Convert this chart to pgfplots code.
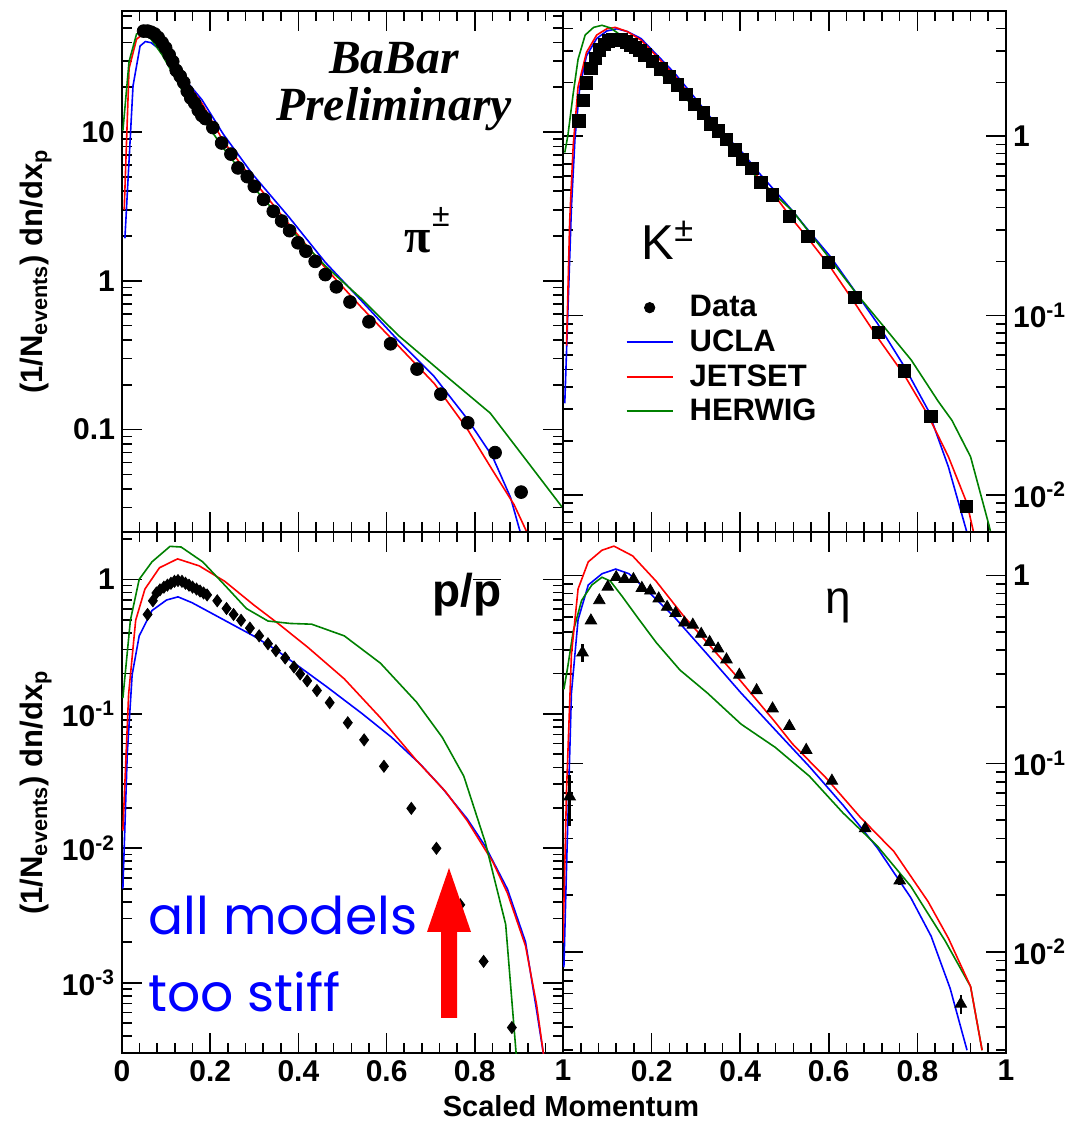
\documentclass[border=0pt]{standalone}
\usepackage{fontspec}
\setmainfont{Liberation Sans}
\newfontfamily\timesfont{Liberation Serif}
\newfontfamily\comicfont{Poppins}
\usepackage{pgfplots}
\pgfplotsset{compat=1.18}
\definecolor{ublue}{RGB}{0,0,255}
\definecolor{jred}{RGB}{255,0,0}
\definecolor{hgreen}{RGB}{0,128,0}

\begin{document}
\begin{tikzpicture}[x=0.5pt,y=0.5pt]
\useasboundingbox (0,0) rectangle (1069,1128);

% ---------------- pions ----------------
\begin{axis}[at={(61pt,298pt)}, anchor=south west, width=220.5pt, height=260.5pt,
  scale only axis, ymode=log, xmin=0, xmax=1,
  tick align=inside, tick pos=both,
  xtick={0,0.2,0.4,0.6,0.8,1}, minor x tick num=4,
  major tick length=10pt, minor tick length=5pt,
  axis line style={line width=1pt},
  tick style={black, line width=0.8pt},
  tick label style={font=\fontsize{15}{15}\selectfont\bfseries},
  ymin=0.0205, ymax=65,
  ytick={0.1,1,10}, yticklabels={0.1,1,10},
  minor ytick={0.03,0.04,0.05,0.06,0.07,0.08,0.09,0.2,0.3,0.4,0.5,0.6,0.7,0.8,0.9,2,3,4,5,6,7,8,9,20,30,40,50,60},
  xticklabel=\empty,
  ylabel={(1/N\textsubscript{events}) dn/dx\textsubscript{p}},
  ylabel style={at={(axis description cs:-0.195,0.5)}, anchor=center, font=\fontsize{15.5}{15.5}\selectfont\bfseries},
]
\addplot[ublue, line width=0.8pt, no marks] coordinates {(0.0066,1.93)(0.025,20.4)(0.041,37.8)(0.053,40.5)(0.066,39.8)(0.091,34.8)(0.132,24.6)(0.181,16.5)(0.230,9.63)(0.296,5.20)(0.379,2.67)(0.461,1.33)(0.535,0.778)(0.626,0.398)(0.708,0.227)(0.782,0.119)(0.840,0.066)(0.881,0.035)(0.901,0.0215)(0.909,0.018)};
\addplot[jred, line width=0.8pt, no marks] coordinates {(0.005,3.0)(0.016,26.7)(0.033,42)(0.045,44.8)(0.066,43.1)(0.091,36.7)(0.132,24.6)(0.181,15.6)(0.230,8.65)(0.296,4.80)(0.379,2.39)(0.461,1.22)(0.543,0.662)(0.626,0.367)(0.708,0.204)(0.782,0.102)(0.840,0.0534)(0.889,0.0313)(0.922,0.0193)};
\addplot[hgreen, line width=0.8pt, no marks] coordinates {(0.002,10.2)(0.016,29.7)(0.033,45.5)(0.045,46.8)(0.066,42)(0.091,33)(0.140,18.3)(0.181,12.6)(0.230,7.78)(0.296,4.31)(0.379,2.27)(0.461,1.26)(0.543,0.757)(0.626,0.431)(0.741,0.221)(0.835,0.129)(0.922,0.0594)(1.0,0.0296)};
\addplot[only marks, mark=*, mark size=3.2pt, black] table {
x y
0.049 47.6
0.058 47.6
0.066 46.8
0.074 45.5
0.082 43.1
0.091 39.8
0.099 36.7
0.107 33.0
0.115 29.7
0.123 25.9
0.132 23.7
0.140 21.5
0.148 18.8
0.156 16.9
0.165 15.6
0.173 14.0
0.181 12.9
0.189 12.3
0.206 10.7
0.226 8.43
0.247 7.10
0.263 5.73
0.284 5.01
0.300 4.31
0.321 3.52
0.343 2.93
0.362 2.52
0.380 2.17
0.399 1.80
0.417 1.58
0.438 1.35
0.461 1.10
0.486 0.91
0.517 0.72
0.560 0.53
0.609 0.377
0.669 0.255
0.723 0.173
0.784 0.111
0.846 0.070
0.905 0.038
};
\end{axis}

% ---------------- kaons ----------------
\begin{axis}[at={(281.5pt,298pt)}, anchor=south west, width=221.5pt, height=260.5pt,
  scale only axis, ymode=log, xmin=0, xmax=1,
  tick align=inside, tick pos=both,
  xtick={0,0.2,0.4,0.6,0.8,1}, minor x tick num=4,
  major tick length=10pt, minor tick length=5pt,
  axis line style={line width=1pt},
  tick style={black, line width=0.8pt},
  tick label style={font=\fontsize{15}{15}\selectfont\bfseries},
  ymin=0.0062, ymax=5.0,
  ytick={0.01,0.1,1}, yticklabels={10\textsuperscript{-2},10\textsuperscript{-1},1},
  yticklabel pos=right, ytick pos=both,
  minor ytick={0.007,0.008,0.009,0.02,0.03,0.04,0.05,0.06,0.07,0.08,0.09,0.2,0.3,0.4,0.5,0.6,0.7,0.8,0.9,2,3,4},
  xticklabel=\empty,
  legend image code/.code={\draw[mark repeat=2,mark phase=2,#1] plot coordinates {(0pt,0pt) (11.5pt,0pt) (23pt,0pt)};},
  legend style={at={(0.127,0.47)}, anchor=north west, draw=none, fill=none,
    font=\fontsize{15.5}{15.5}\selectfont\bfseries, row sep=1pt,
    /tikz/every odd column/.append style={column sep=6pt}},
  legend cell align=left,
]
\addlegendimage{only marks, mark=*, mark size=2.6pt, black}
\addlegendentry{Data}
\addlegendimage{color=ublue, line width=1pt}\addlegendentry{UCLA}
\addlegendimage{color=jred, line width=1pt}\addlegendentry{JETSET}
\addlegendimage{color=hgreen, line width=1pt}\addlegendentry{HERWIG}
\addplot[ublue, line width=0.8pt, no marks, forget plot] coordinates {(0.004,0.0324)(0.011,0.105)(0.019,0.40)(0.027,0.97)(0.038,1.89)(0.053,2.81)(0.076,3.51)(0.099,3.87)(0.122,3.98)(0.145,3.84)(0.176,3.51)(0.214,2.81)(0.252,2.25)(0.290,1.73)(0.328,1.32)(0.366,1.01)(0.405,0.811)(0.443,0.622)(0.481,0.488)(0.519,0.381)(0.557,0.292)(0.603,0.214)(0.656,0.140)(0.710,0.0902)(0.771,0.0517)(0.824,0.0297)(0.870,0.0143)(0.912,0.00614)};
\addplot[jred, line width=0.8pt, no marks, forget plot] coordinates {(0.008,0.068)(0.015,0.334)(0.023,0.887)(0.034,1.89)(0.053,2.94)(0.076,3.67)(0.099,3.98)(0.118,4.05)(0.145,3.84)(0.176,3.44)(0.214,2.75)(0.252,2.18)(0.290,1.65)(0.328,1.27)(0.366,0.97)(0.405,0.759)(0.443,0.582)(0.481,0.456)(0.519,0.341)(0.557,0.262)(0.603,0.187)(0.656,0.120)(0.710,0.0755)(0.771,0.0463)(0.824,0.0278)(0.870,0.0163)(0.912,0.00895)(0.927,0.00614)};
\addplot[hgreen, line width=0.8pt, no marks, forget plot] coordinates {(0.004,0.811)(0.011,1.01)(0.023,1.73)(0.034,2.69)(0.050,3.67)(0.069,4.05)(0.088,4.16)(0.107,4.02)(0.130,3.67)(0.160,3.08)(0.198,2.52)(0.252,1.89)(0.305,1.38)(0.366,0.927)(0.443,0.569)(0.519,0.381)(0.595,0.219)(0.664,0.131)(0.725,0.0862)(0.786,0.0565)(0.847,0.0332)(0.878,0.026)(0.920,0.0163)(0.962,0.0067)(0.970,0.0055)};
\addplot[only marks, mark=square*, mark size=3.1pt, black, forget plot] table {
x y
0.036 1.22
0.046 1.59
0.053 1.99
0.063 2.40
0.073 2.72
0.082 3.04
0.093 3.26
0.103 3.41
0.113 3.48
0.122 3.48
0.132 3.44
0.143 3.36
0.153 3.24
0.164 3.12
0.174 3.01
0.185 2.85
0.202 2.61
0.221 2.38
0.240 2.14
0.258 1.93
0.277 1.71
0.296 1.51
0.317 1.35
0.334 1.17
0.351 1.07
0.369 0.961
0.388 0.838
0.405 0.743
0.426 0.662
0.447 0.552
0.473 0.470
0.511 0.357
0.553 0.276
0.599 0.198
0.659 0.126
0.712 0.0805
0.771 0.049
0.830 0.0274
0.911 0.0086
};
\end{axis}

% ---------------- protons ----------------
\begin{axis}[at={(61pt,37.5pt)}, anchor=south west, width=220.5pt, height=260.5pt,
  scale only axis, ymode=log, xmin=0, xmax=1,
  tick align=inside, tick pos=both,
  xtick={0,0.2,0.4,0.6,0.8,1}, minor x tick num=4,
  major tick length=10pt, minor tick length=5pt,
  axis line style={line width=1pt},
  tick style={black, line width=0.8pt},
  tick label style={font=\fontsize{15}{15}\selectfont\bfseries},
  ymin=3.0e-4, ymax=2.25,
  ytick={0.001,0.01,0.1,1}, yticklabels={10\textsuperscript{-3},10\textsuperscript{-2},10\textsuperscript{-1},1},
  minor ytick={0.0004,0.0005,0.0006,0.0007,0.0008,0.0009,0.002,0.003,0.004,0.005,0.006,0.007,0.008,0.009,0.02,0.03,0.04,0.05,0.06,0.07,0.08,0.09,0.2,0.3,0.4,0.5,0.6,0.7,0.8,0.9,2},
  xticklabels={0,0.2,0.4,0.6,0.8,1},
  ylabel={(1/N\textsubscript{events}) dn/dx\textsubscript{p}},
  ylabel style={at={(axis description cs:-0.195,0.5)}, anchor=center, font=\fontsize{15.5}{15.5}\selectfont\bfseries},
]
\addplot[ublue, line width=0.8pt, no marks] coordinates {(0.002,0.0050)(0.012,0.051)(0.023,0.195)(0.039,0.38)(0.068,0.586)(0.101,0.702)(0.127,0.741)(0.159,0.67)(0.216,0.531)(0.257,0.449)(0.298,0.380)(0.348,0.301)(0.397,0.230)(0.463,0.160)(0.545,0.100)(0.611,0.067)(0.677,0.042)(0.726,0.0281)(0.783,0.0165)(0.824,0.0103)(0.874,0.00497)(0.915,0.00201)(0.940,0.000627)(0.956,0.00029)};
\addplot[jred, line width=0.8pt, no marks] coordinates {(0.002,0.0135)(0.015,0.14)(0.031,0.496)(0.052,0.847)(0.085,1.22)(0.126,1.42)(0.175,1.26)(0.233,0.967)(0.298,0.648)(0.356,0.464)(0.422,0.311)(0.504,0.182)(0.586,0.0935)(0.668,0.0449)(0.734,0.0263)(0.783,0.016)(0.841,0.0079)(0.874,0.00464)(0.915,0.00188)(0.940,0.00069)(0.956,0.00029)};
\addplot[hgreen, line width=0.8pt, no marks] coordinates {(0.002,0.131)(0.019,0.496)(0.039,1.0)(0.068,1.35)(0.109,1.76)(0.134,1.74)(0.183,1.35)(0.233,0.905)(0.282,0.607)(0.331,0.490)(0.381,0.470)(0.430,0.464)(0.504,0.380)(0.586,0.238)(0.668,0.122)(0.726,0.067)(0.775,0.0344)(0.824,0.0110)(0.870,0.00272)(0.894,0.00029)};
\addplot[only marks, mark=diamond*, mark size=3.0pt, black] table {
x y
0.058 0.548
0.070 0.693
0.078 0.792
0.086 0.835
0.095 0.875
0.103 0.905
0.111 0.935
0.119 0.967
0.127 0.980
0.136 0.967
0.144 0.935
0.152 0.905
0.160 0.875
0.169 0.847
0.177 0.819
0.185 0.792
0.193 0.766
0.216 0.693
0.237 0.607
0.253 0.548
0.270 0.496
0.290 0.434
0.311 0.380
0.331 0.332
0.349 0.295
0.370 0.260
0.390 0.223
0.404 0.198
0.420 0.176
0.442 0.149
0.471 0.121
0.512 0.0858
0.549 0.064
0.594 0.0407
0.656 0.0198
0.713 0.0100
0.767 0.0038
0.820 0.00144
0.884 0.000464
};
\end{axis}

% ---------------- eta ----------------
\begin{axis}[at={(281.5pt,37.5pt)}, anchor=south west, width=221.5pt, height=260.5pt,
  scale only axis, ymode=log, xmin=0, xmax=1,
  tick align=inside, tick pos=both,
  xtick={0,0.2,0.4,0.6,0.8,1}, minor x tick num=4,
  major tick length=10pt, minor tick length=5pt,
  axis line style={line width=1pt},
  tick style={black, line width=0.8pt},
  tick label style={font=\fontsize{15}{15}\selectfont\bfseries},
  ymin=0.0029, ymax=1.7,
  ytick={0.01,0.1,1}, yticklabels={10\textsuperscript{-2},10\textsuperscript{-1},1},
  yticklabel pos=right, ytick pos=both,
  minor ytick={0.003,0.004,0.005,0.006,0.007,0.008,0.009,0.02,0.03,0.04,0.05,0.06,0.07,0.08,0.09,0.2,0.3,0.4,0.5,0.6,0.7,0.8,0.9},
  xticklabels={,0.2,0.4,0.6,0.8,1},
]
\addplot[ublue, line width=0.8pt, no marks] coordinates {(0.002,0.00828)(0.008,0.0283)(0.019,0.237)(0.034,0.581)(0.057,0.889)(0.088,1.02)(0.119,1.08)(0.149,1.02)(0.195,0.809)(0.249,0.609)(0.326,0.38)(0.402,0.237)(0.479,0.151)(0.556,0.0965)(0.632,0.0602)(0.709,0.0358)(0.785,0.0194)(0.831,0.0121)(0.874,0.00638)(0.912,0.0030)};
\addplot[hgreen, line width=0.8pt, no marks] coordinates {(0.002,0.248)(0.011,0.33)(0.023,0.504)(0.042,0.736)(0.065,0.889)(0.088,0.977)(0.107,0.932)(0.134,0.771)(0.172,0.581)(0.211,0.438)(0.264,0.314)(0.326,0.237)(0.402,0.162)(0.479,0.122)(0.556,0.0858)(0.632,0.0547)(0.709,0.0366)(0.785,0.0223)(0.862,0.0115)(0.920,0.00654)(0.946,0.0030)};
\addplot[jred, line width=0.8pt, no marks] coordinates {(0.0,0.0112)(0.008,0.0727)(0.019,0.38)(0.034,0.847)(0.057,1.18)(0.088,1.36)(0.115,1.43)(0.157,1.27)(0.210,0.932)(0.272,0.609)(0.326,0.438)(0.402,0.273)(0.479,0.166)(0.517,0.128)(0.594,0.0838)(0.670,0.0522)(0.747,0.0341)(0.824,0.0185)(0.870,0.0118)(0.920,0.00654)(0.946,0.0030)};
\addplot[only marks, mark=triangle*, mark size=3.3pt, black,
  error bars/.cd, y dir=both, y explicit, error mark=none,
  error bar style={line width=1.2pt, black}] table[x=x, y=y, y error=e] {
x y e
0.015 0.0668 0.020
0.044 0.389 0.042
0.063 0.575 0.025
0.082 0.736 0.025
0.101 0.868 0.025
0.120 0.977 0.025
0.139 0.954 0.025
0.159 0.954 0.025
0.178 0.856 0.022
0.197 0.828 0.022
0.216 0.753 0.020
0.235 0.679 0.018
0.254 0.630 0.017
0.274 0.560 0.015
0.293 0.546 0.015
0.312 0.488 0.013
0.331 0.442 0.012
0.350 0.408 0.011
0.369 0.357 0.010
0.398 0.296 0.008
0.437 0.245 0.007
0.473 0.196 0.006
0.511 0.158 0.005
0.549 0.118 0.004
0.607 0.0810 0.003
0.682 0.0453 0.002
0.760 0.0239 0.0012
0.898 0.00529 0.0006
};
\end{axis}

% ---------------- annotations ----------------
\node[font=\timesfont\bfseries\itshape\fontsize{23.8}{24}\selectfont, anchor=base, inner sep=0pt] at (394,1054) {BaBar};
\node[font=\timesfont\bfseries\itshape\fontsize{23.8}{24}\selectfont, anchor=base, inner sep=0pt] at (394,1007) {Preliminary};
\node[font=\timesfont\bfseries\fontsize{24}{24}\selectfont, anchor=base] at (418,875) {π};
\node[font=\fontsize{16}{16}\selectfont, anchor=center] at (441,911) {±};
\node[font=\fontsize{24.5}{24.5}\selectfont] at (668,888) {K\textsuperscript{±}};
\node[font=\fontsize{23}{23}\selectfont\bfseries] at (467,533) {p/$\overline{\mbox{p}}$};
\node[font=\fontsize{23}{23}\selectfont] at (838,522) {η};
\node[font=\comicfont\fontsize{26}{26}\selectfont, text=ublue, anchor=base west, inner sep=0pt] at (148,193) {all models};
\node[font=\comicfont\fontsize{26}{26}\selectfont, text=ublue, anchor=base west, inner sep=0pt] at (148,116) {too stiff};
\fill[jred] (441,110) -- (441,196) -- (427,196) -- (449,260) -- (471,196) -- (457,196) -- (457,110) -- cycle;
\node[font=\fontsize{14.5}{14.5}\selectfont\bfseries, anchor=base] at (571,11) {Scaled Momentum};
\end{tikzpicture}
\end{document}
